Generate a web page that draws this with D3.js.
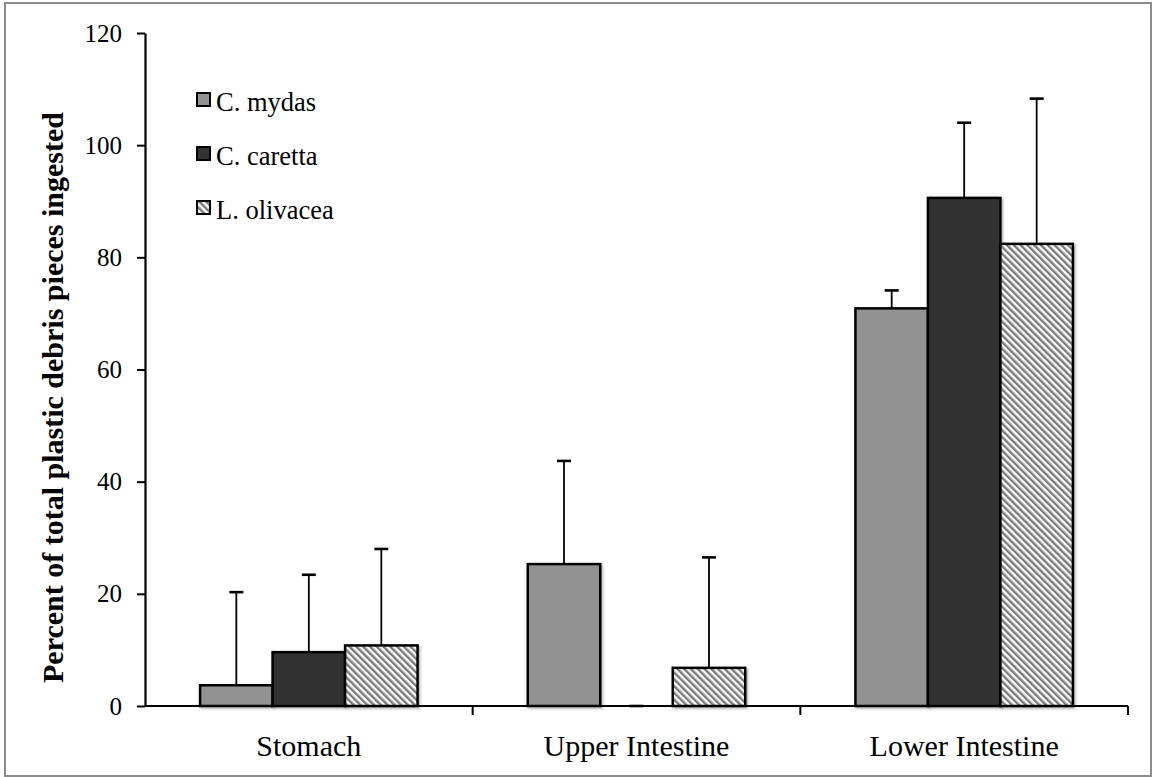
<!DOCTYPE html>
<html>
<head>
<meta charset="utf-8">
<script src="https://cdn.jsdelivr.net/npm/d3@7"></script>
<style>
  body { margin: 0; background: #fff; }
  svg text { font-family: "Liberation Serif", "Times New Roman", serif; fill: #000; }
</style>
</head>
<body>
<script>
// data
const categories = ["Stomach", "Upper Intestine", "Lower Intestine"];
const seriesNames = ["C. mydas", "C. caretta", "L. olivacea"];
const mydas = [3.7, 25.3, 70.9];
const mydasErr = [16.6, 18.4, 3.2];
const caretta = [9.6, 0, 90.6];
const carettaErr = [13.8, 0, 13.4];
const olivacea = [10.8, 6.8, 82.4];
const olivaceaErr = [17.2, 19.7, 25.9];
const yTicks = [0, 20, 40, 60, 80, 100, 120];

const W = 1153, H = 777;
const margin = { left: 145, right: 25, top: 33, bottom: 71 };
const serif = "'Liberation Serif', 'Times New Roman', serif";

const svg = d3.select("body").append("svg")
  .attr("width", W).attr("height", H);

const defs = svg.append("defs");
// diagonal hatch for L. olivacea
const pat = defs.append("pattern")
  .attr("id", "hatch")
  .attr("patternUnits", "userSpaceOnUse")
  .attr("width", 4.8).attr("height", 4.8)
  .attr("patternTransform", "rotate(-45)");
pat.append("rect").attr("width", 4.8).attr("height", 4.8).attr("fill", "#fff");
pat.append("rect").attr("width", 2.4).attr("height", 4.8).attr("fill", "#7a7a7a");

const shadow = defs.append("filter").attr("id", "shadow")
  .attr("x", "-10%").attr("y", "-10%").attr("width", "130%").attr("height", "130%");
shadow.append("feDropShadow")
  .attr("dx", 1.5).attr("dy", 1.5).attr("stdDeviation", 1.2)
  .attr("flood-color", "#000").attr("flood-opacity", 0.3);

// outer frame
svg.append("rect")
  .attr("x", 5).attr("y", 3)
  .attr("width", 1146).attr("height", 773)
  .attr("fill", "none").attr("stroke", "#8c8c8c").attr("stroke-width", 2);

const x0 = d3.scaleBand()
  .domain(categories)
  .range([margin.left, W - margin.right])
  .paddingInner(0).paddingOuter(0);

const x1 = d3.scaleBand()
  .domain(seriesNames)
  .range([0, x0.bandwidth()])
  .paddingInner(0).paddingOuter(0.76);

const y = d3.scaleLinear().domain([0, 120]).range([706, 33]);

const fills = { "C. mydas": "#929292", "C. caretta": "#333333", "L. olivacea": "url(#hatch)" };
const vals = { "C. mydas": mydas, "C. caretta": caretta, "L. olivacea": olivacea };
const errs = { "C. mydas": mydasErr, "C. caretta": carettaErr, "L. olivacea": olivaceaErr };

const rows = [];
categories.forEach((c, i) => {
  seriesNames.forEach(s => {
    rows.push({ cat: c, series: s, value: vals[s][i], err: errs[s][i] });
  });
});

// error bars (drawn first, bars overlap the stem base)
const eb = svg.append("g").attr("class", "errors");
rows.forEach(d => {
  const cx = x0(d.cat) + x1(d.series) + x1.bandwidth() / 2;
  eb.append("line")
    .attr("x1", cx).attr("x2", cx)
    .attr("y1", y(d.value)).attr("y2", y(d.value + d.err))
    .attr("stroke", "#000").attr("stroke-width", 1.8);
  eb.append("line")
    .attr("x1", cx - 7).attr("x2", cx + 7)
    .attr("y1", y(d.value + d.err)).attr("y2", y(d.value + d.err))
    .attr("stroke", "#000").attr("stroke-width", 2.6);
});

// bars
svg.append("g").attr("class", "bars")
  .selectAll("rect")
  .data(rows.filter(d => d.value > 0))
  .join("rect")
  .attr("x", d => x0(d.cat) + x1(d.series))
  .attr("y", d => y(d.value))
  .attr("width", x1.bandwidth())
  .attr("height", d => y(0) - y(d.value))
  .attr("fill", d => fills[d.series])
  .attr("stroke", "#000")
  .attr("stroke-width", 2.5)
  .attr("filter", "url(#shadow)");

// y axis
const yAxis = svg.append("g")
  .attr("transform", `translate(${margin.left},0)`)
  .call(d3.axisLeft(y).tickValues(yTicks).tickSize(8).tickPadding(15).tickSizeOuter(0));
yAxis.select(".domain").attr("stroke", "#000").attr("stroke-width", 2.2);
yAxis.selectAll(".tick line").attr("stroke", "#000").attr("stroke-width", 2);
yAxis.selectAll(".tick text").attr("font-size", 25).style("font-family", serif);

// x axis: ticks sit on the category boundaries
const xAxisG = svg.append("g").attr("transform", `translate(0,${y(0)})`);
xAxisG.append("line")
  .attr("x1", margin.left).attr("x2", W - margin.right)
  .attr("stroke", "#000").attr("stroke-width", 2.2);
const bounds = categories.map(c => x0(c)).concat([x0.range()[1]]);
xAxisG.selectAll("line.tk")
  .data(bounds.slice(1))
  .join("line").attr("class", "tk")
  .attr("x1", d => d).attr("x2", d => d)
  .attr("y1", 0).attr("y2", 9)
  .attr("stroke", "#000").attr("stroke-width", 2);
xAxisG.selectAll("text")
  .data(categories)
  .join("text")
  .attr("x", d => x0(d) + x0.bandwidth() / 2)
  .attr("y", 50)
  .attr("text-anchor", "middle")
  .attr("font-size", 30)
  .style("font-family", serif)
  .text(d => d);

// y axis title
svg.append("text")
  .attr("transform", `translate(63,${(y(0) + y(120)) / 2 + 28}) rotate(-90)`)
  .attr("text-anchor", "middle")
  .attr("font-size", 30)
  .attr("font-weight", "bold")
  .style("font-family", serif)
  .text("Percent of total plastic debris pieces ingested");

// legend
const legend = svg.append("g").attr("transform", "translate(197,93)");
seriesNames.forEach((s, i) => {
  const g = legend.append("g").attr("transform", `translate(0,${i * 54})`);
  g.append("rect")
    .attr("width", 13).attr("height", 13)
    .attr("fill", fills[s])
    .attr("stroke", "#000").attr("stroke-width", 2);
  g.append("text")
    .attr("x", 19).attr("y", 18)
    .attr("font-size", 26.5)
    .style("font-family", serif)
    .text(s);
});
</script>
</body>
</html>
